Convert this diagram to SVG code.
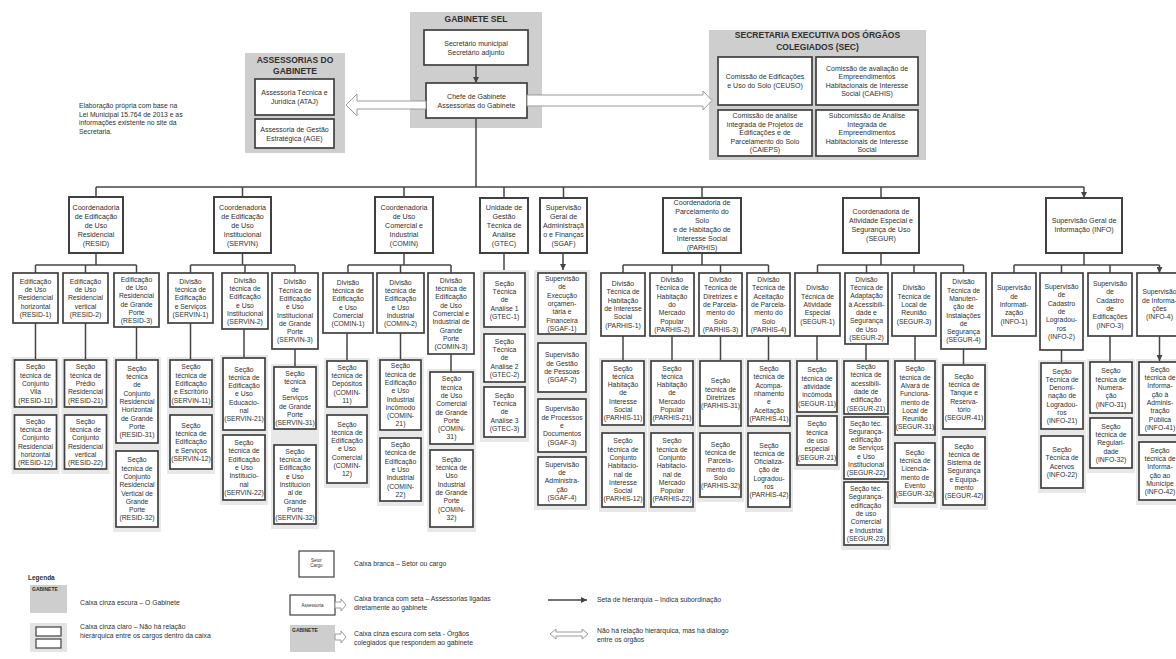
<svg xmlns="http://www.w3.org/2000/svg" width="1176" height="659" viewBox="0 0 1176 659">
<defs>
<style>
text{font-family:"Liberation Sans",Arial,sans-serif;fill:#2f2f2f}
.t{font-size:6.8px;text-anchor:middle}
.t1{font-size:7.1px}
.t2{font-size:7px;text-anchor:middle}
.h{font-size:8.5px;font-weight:bold;text-anchor:middle;fill:#2f2f2f}
.l{font-size:6.8px}
.b{fill:#fff;stroke:#404040;stroke-width:1.7}
.b1{stroke-width:2}
.g{fill:#cecece}
.sh{fill:#e8e8e8}
.c{fill:none;stroke:#454545;stroke-width:1.5}
.hol{fill:#fff;stroke:#9a9a9a;stroke-width:1}
</style>
<marker id="ah" viewBox="0 0 6 6" refX="6" refY="3" markerWidth="6" markerHeight="6" markerUnits="userSpaceOnUse" orient="auto"><path d="M0,0 L6,3 L0,6 z" fill="#454545"/></marker>
</defs>
<rect width="1176" height="659" fill="#fff"/>

<!-- source note -->
<text class="l" x="79" y="108">Elaboração própria com base na</text>
<text class="l" x="79" y="116.5">Lei Municipal 15.764 de 2013 e as</text>
<text class="l" x="79" y="125">informações existente no site da</text>
<text class="l" x="79" y="133.5">Secretaria.</text>

<!-- cabinet -->
<g id="gabinete">
<rect class="g" x="410" y="12" width="132" height="116"/>
<text class="h" x="476" y="22">GABINETE SEL</text>
<rect class="b" x="424" y="30" width="104" height="35"/>
<text class="t2" y="45.5"><tspan x="476">Secretário municipal</tspan><tspan x="476" dy="9">Secretário adjunto</tspan></text>
<rect class="b" x="426" y="83" width="101" height="35"/>
<text class="t2" y="98.5"><tspan x="476.5">Chefe de Gabinete</tspan><tspan x="476.5" dy="9">Assessorias do Gabinete</tspan></text>
</g>

<g id="assessorias">
<rect class="g" x="245" y="53" width="100" height="100"/>
<text class="h" y="63"><tspan x="295">ASSESSORIAS DO</tspan><tspan x="295" dy="11">GABINETE</tspan></text>
<rect class="b" x="255" y="79" width="79" height="36"/>
<text class="t2" y="95"><tspan x="294.5">Assessoria Técnica e</tspan><tspan x="294.5" dy="9">Jurídica (ATAJ)</tspan></text>
<rect class="b" x="255" y="119" width="79" height="29"/>
<text class="t2" y="131.5"><tspan x="294.5">Assessoria de Gestão</tspan><tspan x="294.5" dy="9">Estratégica (AGE)</tspan></text>
</g>

<g id="sec">
<rect class="g" x="709" y="30" width="217" height="130"/>
<text class="h" y="38"><tspan x="817.5">SECRETARIA EXECUTIVA DOS ÓRGÃOS</tspan><tspan x="817.5" dy="12">COLEGIADOS (SEC)</tspan></text>
<rect class="b" x="718" y="57" width="94" height="48"/>
<text class="t2" y="79"><tspan x="765">Comissão de Edificações</tspan><tspan x="765" dy="9">e Uso do Solo (CEUSO)</tspan></text>
<rect class="b" x="816" y="57" width="102" height="48"/>
<text class="t2" y="70.5"><tspan x="867">Comissão de avaliação de</tspan><tspan x="867" dy="8.5">Empreendimentos</tspan><tspan x="867" dy="8.5">Habitacionais de Interesse</tspan><tspan x="867" dy="8.5">Social (CAEHIS)</tspan></text>
<rect class="b" x="718" y="110" width="94" height="46"/>
<text class="t2" y="118.4"><tspan x="765">Comissão de análise</tspan><tspan x="765" dy="8.5">integrada de Projetos de</tspan><tspan x="765" dy="8.5">Edificações e de</tspan><tspan x="765" dy="8.5">Parcelamento do Solo</tspan><tspan x="765" dy="8.5">(CAIEPS)</tspan></text>
<rect class="b" x="816" y="110" width="102" height="46"/>
<text class="t2" y="118.4"><tspan x="867">Subcomissão de Análise</tspan><tspan x="867" dy="8.5">Integrada de</tspan><tspan x="867" dy="8.5">Empreendimentos</tspan><tspan x="867" dy="8.5">Habitacionais de Interesse</tspan><tspan x="867" dy="8.5">Social</tspan></text>
</g>

<!-- dialogue arrows (no hierarchy) -->
<g id="dialogue">
<polygon class="hol" points="426,101 357,101 357,94 346,105 357,116 357,109 426,109"/>
<polygon class="hol" points="527,95 703,95 703,91 712,100.5 703,110 703,106 527,106"/>
</g>

<!-- light shading behind section columns -->
<g id="shading">
<rect class="sh" x="11.5" y="357" width="48" height="117"/>
<rect class="sh" x="61.5" y="357" width="48" height="117"/>
<rect class="sh" x="113" y="357" width="48" height="175"/>
<rect class="sh" x="167" y="357" width="48" height="117"/>
<rect class="sh" x="220" y="355" width="48" height="150"/>
<rect class="sh" x="271" y="364" width="48" height="165"/>
<rect class="sh" x="324" y="358" width="46" height="130"/>
<rect class="sh" x="377" y="357" width="47" height="149"/>
<rect class="sh" x="427" y="369" width="49" height="163"/>
<rect class="sh" x="480" y="270" width="49" height="172"/>
<rect class="sh" x="534" y="270" width="56" height="240"/>
<rect class="sh" x="599" y="358" width="48" height="154"/>
<rect class="sh" x="648" y="358" width="48" height="154"/>
<rect class="sh" x="697" y="358" width="47" height="144"/>
<rect class="sh" x="745" y="358" width="48" height="154"/>
<rect class="sh" x="794" y="358" width="46" height="112"/>
<rect class="sh" x="841" y="358" width="50" height="192"/>
<rect class="sh" x="892" y="358" width="46" height="150"/>
<rect class="sh" x="940" y="362" width="48" height="148"/>
<rect class="sh" x="1038" y="360" width="48" height="133"/>
<rect class="sh" x="1087" y="359" width="48" height="114"/>
<rect class="sh" x="1136" y="359" width="48" height="146"/>
</g>

<!-- hierarchy connectors -->
<g id="connectors" class="c">
<path d="M476,65 V83" marker-end="url(#ah)"/>
<path d="M476,118 V187 M96,187 H1084"/>
<path d="M96,187 V197 M242.5,187 V197 M404,187 V197 M504,187 V198 M563.5,187 V198 M702,187 V198 M881,187 V198 M1084,187 V198" marker-end="url(#ah)"/>
<path d="M96,253 V265 M35.5,265 H136.5 M242.5,253 V265 M190.5,265 H295 M404,253 V265 M348,265 H451 M702,253 V265 M623,265 H768.5 M881,253 V265 M817.5,265 H963.5 M1084,253 V265 M1014,265 H1159.5"/>
<path d="M35.5,265 V273 M85.5,265 V273 M136.5,265 V273 M190.5,265 V273 M245,265 V273 M295,265 V273 M348,265 V273 M400.5,265 V273 M451,265 V273 M623,265 V273 M672,265 V273 M720.5,265 V273 M768.5,265 V273 M817.5,265 V273 M866.5,265 V273 M914,265 V273 M963.5,265 V273 M1014,265 V273 M1061.5,265 V273 M1110,265 V273 M1159.5,265 V273" marker-end="url(#ah)"/>
<path d="M504,253 V270 M563,253 V270" marker-end="url(#ah)"/>
<path d="M35.5,323 V359 M85.5,323 V359 M136.5,327 V359 M190.5,323 V359 M244,329 V357 M295,349 V366 M347,333 V360 M400.5,333 V359 M451,354 V371 M623,336 V360 M672,336 V360 M720.5,336 V360 M768.5,336 V360 M817,336 V360 M866,344 V360 M915,336 V360 M963.5,349 V364 M1061.5,350 V362 M1110,336 V361 M1159.5,336 V361" marker-end="url(#ah)"/>
</g>

<!-- level 1 -->
<g id="RESID"><rect class="b b1" x="69" y="197" width="54" height="56"/><text class="t t1" y="209.5"><tspan x="96">Coordenadoria</tspan><tspan x="96" dy="9">de Edificação</tspan><tspan x="96" dy="9">de Uso</tspan><tspan x="96" dy="9">Residencial</tspan><tspan x="96" dy="9">(RESID)</tspan></text></g>
<g id="SERVIN"><rect class="b b1" x="214" y="197" width="57" height="56"/><text class="t t1" y="209.5"><tspan x="242.5">Coordenadoria</tspan><tspan x="242.5" dy="9">de Edificação</tspan><tspan x="242.5" dy="9">de Uso</tspan><tspan x="242.5" dy="9">Institucional</tspan><tspan x="242.5" dy="9">(SERVIN)</tspan></text></g>
<g id="COMIN"><rect class="b b1" x="375" y="197" width="58" height="56"/><text class="t t1" y="209.5"><tspan x="404">Coordenadoria</tspan><tspan x="404" dy="9">de Uso</tspan><tspan x="404" dy="9">Comercial e</tspan><tspan x="404" dy="9">Industrial</tspan><tspan x="404" dy="9">(COMIN)</tspan></text></g>
<g id="GTEC"><rect class="b b1" x="480" y="198" width="48" height="55"/><text class="t t1" y="209.5"><tspan x="504">Unidade de</tspan><tspan x="504" dy="9">Gestão</tspan><tspan x="504" dy="9">Técnica de</tspan><tspan x="504" dy="9">Análise</tspan><tspan x="504" dy="9">(GTEC)</tspan></text></g>
<g id="SGAF"><rect class="b b1" x="540" y="198" width="47" height="55"/><text class="t t1" y="209.5"><tspan x="563.5">Supervisão</tspan><tspan x="563.5" dy="9">Geral de</tspan><tspan x="563.5" dy="9">Administraçã</tspan><tspan x="563.5" dy="9">o e Finanças</tspan><tspan x="563.5" dy="9">(SGAF)</tspan></text></g>
<g id="PARHIS"><rect class="b b1" x="663" y="198" width="78" height="55"/><text class="t t1" y="205"><tspan x="702">Coordenadoria de</tspan><tspan x="702" dy="9">Parcelamento do</tspan><tspan x="702" dy="9">Solo</tspan><tspan x="702" dy="9">e de Habitação de</tspan><tspan x="702" dy="9">Interesse Social</tspan><tspan x="702" dy="9">(PARHIS)</tspan></text></g>
<g id="SEGUR"><rect class="b b1" x="843" y="198" width="76" height="55"/><text class="t t1" y="214"><tspan x="881">Coordenadoria de</tspan><tspan x="881" dy="9">Atividade Especial e</tspan><tspan x="881" dy="9">Segurança de Uso</tspan><tspan x="881" dy="9">(SEGUR)</tspan></text></g>
<g id="INFO"><rect class="b b1" x="1046" y="198" width="76" height="55"/><text class="t t1" y="223"><tspan x="1084">Supervisão Geral de</tspan><tspan x="1084" dy="9">Informação (INFO)</tspan></text></g>

<!-- level 2 -->
<g id="RESID-1"><rect class="b" x="13" y="273" width="45" height="50"/><text class="t" y="283.8"><tspan x="35.5">Edificação</tspan><tspan x="35.5" dy="8.3">de Uso</tspan><tspan x="35.5" dy="8.3">Residencial</tspan><tspan x="35.5" dy="8.3">horizontal</tspan><tspan x="35.5" dy="8.3">(RESID-1)</tspan></text></g>
<g id="RESID-2"><rect class="b" x="63" y="273" width="45" height="50"/><text class="t" y="283.8"><tspan x="85.5">Edificação</tspan><tspan x="85.5" dy="8.3">de Uso</tspan><tspan x="85.5" dy="8.3">Residencial</tspan><tspan x="85.5" dy="8.3">vertical</tspan><tspan x="85.5" dy="8.3">(RESID-2)</tspan></text></g>
<g id="RESID-3"><rect class="b" x="114" y="273" width="45" height="54"/><text class="t" y="281.65"><tspan x="136.5">Edificação</tspan><tspan x="136.5" dy="8.3">de Uso</tspan><tspan x="136.5" dy="8.3">Residencial</tspan><tspan x="136.5" dy="8.3">de Grande</tspan><tspan x="136.5" dy="8.3">Porte</tspan><tspan x="136.5" dy="8.3">(RESID-3)</tspan></text></g>
<g id="SERVIN-1"><rect class="b" x="168" y="273" width="45" height="50"/><text class="t" y="283.8"><tspan x="190.5">Divisão</tspan><tspan x="190.5" dy="8.3">técnica de</tspan><tspan x="190.5" dy="8.3">Edificação</tspan><tspan x="190.5" dy="8.3">e Serviços</tspan><tspan x="190.5" dy="8.3">(SERVIN-1)</tspan></text></g>
<g id="SERVIN-2"><rect class="b" x="222" y="273" width="46" height="56"/><text class="t" y="282.65"><tspan x="245">Divisão</tspan><tspan x="245" dy="8.3">técnica de</tspan><tspan x="245" dy="8.3">Edificação</tspan><tspan x="245" dy="8.3">e Uso</tspan><tspan x="245" dy="8.3">Institucional</tspan><tspan x="245" dy="8.3">(SERVIN-2)</tspan></text></g>
<g id="SERVIN-3"><rect class="b" x="272" y="273" width="46" height="76"/><text class="t" y="284.35"><tspan x="295">Divisão</tspan><tspan x="295" dy="8.3">Técnica de</tspan><tspan x="295" dy="8.3">Edificação</tspan><tspan x="295" dy="8.3">e Uso</tspan><tspan x="295" dy="8.3">Institucional</tspan><tspan x="295" dy="8.3">de Grande</tspan><tspan x="295" dy="8.3">Porte</tspan><tspan x="295" dy="8.3">(SERVIN-3)</tspan></text></g>
<g id="COMIN-1"><rect class="b" x="323" y="273" width="50" height="60"/><text class="t" y="284.65"><tspan x="348">Divisão</tspan><tspan x="348" dy="8.3">técnica de</tspan><tspan x="348" dy="8.3">Edificação</tspan><tspan x="348" dy="8.3">e Uso</tspan><tspan x="348" dy="8.3">Comercial</tspan><tspan x="348" dy="8.3">(COMIN-1)</tspan></text></g>
<g id="COMIN-2"><rect class="b" x="377" y="273" width="47" height="60"/><text class="t" y="284.65"><tspan x="400.5">Divisão</tspan><tspan x="400.5" dy="8.3">técnica de</tspan><tspan x="400.5" dy="8.3">Edificação</tspan><tspan x="400.5" dy="8.3">e Uso</tspan><tspan x="400.5" dy="8.3">Industrial</tspan><tspan x="400.5" dy="8.3">(COMIN-2)</tspan></text></g>
<g id="COMIN-3"><rect class="b" x="428" y="273" width="46" height="81"/><text class="t" y="282.7"><tspan x="451">Divisão</tspan><tspan x="451" dy="8.3">técnica de</tspan><tspan x="451" dy="8.3">Edificação</tspan><tspan x="451" dy="8.3">de Uso</tspan><tspan x="451" dy="8.3">Comercial e</tspan><tspan x="451" dy="8.3">Industrial de</tspan><tspan x="451" dy="8.3">Grande</tspan><tspan x="451" dy="8.3">Porte</tspan><tspan x="451" dy="8.3">(COMIN-3)</tspan></text></g>
<g id="PARHIS-1"><rect class="b" x="601" y="273" width="44" height="63"/><text class="t" y="286.15"><tspan x="623">Divisão</tspan><tspan x="623" dy="8.3">Técnica de</tspan><tspan x="623" dy="8.3">Habitação</tspan><tspan x="623" dy="8.3">de Interesse</tspan><tspan x="623" dy="8.3">Social</tspan><tspan x="623" dy="8.3">(PARHIS-1)</tspan></text></g>
<g id="PARHIS-2"><rect class="b" x="650" y="273" width="44" height="63"/><text class="t" y="282"><tspan x="672">Divisão</tspan><tspan x="672" dy="8.3">Técnica de</tspan><tspan x="672" dy="8.3">Habitação</tspan><tspan x="672" dy="8.3">do</tspan><tspan x="672" dy="8.3">Mercado</tspan><tspan x="672" dy="8.3">Popular</tspan><tspan x="672" dy="8.3">(PARHIS-2)</tspan></text></g>
<g id="PARHIS-3"><rect class="b" x="699" y="273" width="43" height="63"/><text class="t" y="282"><tspan x="720.5">Divisão</tspan><tspan x="720.5" dy="8.3">Técnica de</tspan><tspan x="720.5" dy="8.3">Diretrizes e</tspan><tspan x="720.5" dy="8.3">de Parcela-</tspan><tspan x="720.5" dy="8.3">mento do</tspan><tspan x="720.5" dy="8.3">Solo</tspan><tspan x="720.5" dy="8.3">(PARHIS-3)</tspan></text></g>
<g id="PARHIS-4"><rect class="b" x="747" y="273" width="43" height="63"/><text class="t" y="282"><tspan x="768.5">Divisão</tspan><tspan x="768.5" dy="8.3">Técnica de</tspan><tspan x="768.5" dy="8.3">Aceitação</tspan><tspan x="768.5" dy="8.3">de Parcela-</tspan><tspan x="768.5" dy="8.3">mento do</tspan><tspan x="768.5" dy="8.3">Solo</tspan><tspan x="768.5" dy="8.3">(PARHIS-4)</tspan></text></g>
<g id="SEGUR-1"><rect class="b" x="795" y="273" width="45" height="63"/><text class="t" y="290.3"><tspan x="817.5">Divisão</tspan><tspan x="817.5" dy="8.3">Técnica de</tspan><tspan x="817.5" dy="8.3">Atividade</tspan><tspan x="817.5" dy="8.3">Especial</tspan><tspan x="817.5" dy="8.3">(SEGUR-1)</tspan></text></g>
<g id="SEGUR-2"><rect class="b" x="845" y="273" width="43" height="71"/><text class="t" y="281.85"><tspan x="866.5">Divisão</tspan><tspan x="866.5" dy="8.3">Técnica de</tspan><tspan x="866.5" dy="8.3">Adaptação</tspan><tspan x="866.5" dy="8.3">à Acessibili-</tspan><tspan x="866.5" dy="8.3">dade e</tspan><tspan x="866.5" dy="8.3">Segurança</tspan><tspan x="866.5" dy="8.3">de Uso</tspan><tspan x="866.5" dy="8.3">(SEGUR-2)</tspan></text></g>
<g id="SEGUR-3"><rect class="b" x="892" y="273" width="44" height="63"/><text class="t" y="290.3"><tspan x="914">Divisão</tspan><tspan x="914" dy="8.3">Técnica de</tspan><tspan x="914" dy="8.3">Local de</tspan><tspan x="914" dy="8.3">Reunião</tspan><tspan x="914" dy="8.3">(SEGUR-3)</tspan></text></g>
<g id="SEGUR-4"><rect class="b" x="941" y="273" width="45" height="76"/><text class="t" y="284.35"><tspan x="963.5">Divisão</tspan><tspan x="963.5" dy="8.3">Técnica de</tspan><tspan x="963.5" dy="8.3">Manuten-</tspan><tspan x="963.5" dy="8.3">ção de</tspan><tspan x="963.5" dy="8.3">Instalações</tspan><tspan x="963.5" dy="8.3">de</tspan><tspan x="963.5" dy="8.3">Segurança</tspan><tspan x="963.5" dy="8.3">(SEGUR-4)</tspan></text></g>
<g id="INFO-1"><rect class="b" x="992" y="273" width="44" height="63"/><text class="t" y="290.3"><tspan x="1014">Supervisão</tspan><tspan x="1014" dy="8.3">de</tspan><tspan x="1014" dy="8.3">Informati-</tspan><tspan x="1014" dy="8.3">zação</tspan><tspan x="1014" dy="8.3">(INFO-1)</tspan></text></g>
<g id="INFO-2"><rect class="b" x="1040" y="273" width="43" height="77"/><text class="t" y="289"><tspan x="1061.5">Supervisão</tspan><tspan x="1061.5" dy="8.3">de</tspan><tspan x="1061.5" dy="8.3">Cadastro</tspan><tspan x="1061.5" dy="8.3">de</tspan><tspan x="1061.5" dy="8.3">Logradou-</tspan><tspan x="1061.5" dy="8.3">ros</tspan><tspan x="1061.5" dy="8.3">(INFO-2)</tspan></text></g>
<g id="INFO-3"><rect class="b" x="1088" y="273" width="44" height="63"/><text class="t" y="286.15"><tspan x="1110">Supervisão</tspan><tspan x="1110" dy="8.3">de</tspan><tspan x="1110" dy="8.3">Cadastro</tspan><tspan x="1110" dy="8.3">de</tspan><tspan x="1110" dy="8.3">Edificações</tspan><tspan x="1110" dy="8.3">(INFO-3)</tspan></text></g>
<g id="INFO-4"><rect class="b" x="1137" y="273" width="45" height="63"/><text class="t" y="294.45"><tspan x="1159.5">Supervisão</tspan><tspan x="1159.5" dy="8.3">de Informa-</tspan><tspan x="1159.5" dy="8.3">ções</tspan><tspan x="1159.5" dy="8.3">(INFO-4)</tspan></text></g>

<!-- level 3: sections -->
<g id="RESID-11"><rect class="b" x="14.5" y="360" width="42" height="47"/><text class="t" y="369.3"><tspan x="35.5">Seção</tspan><tspan x="35.5" dy="8.3">técnica de</tspan><tspan x="35.5" dy="8.3">Conjunto</tspan><tspan x="35.5" dy="8.3">Vila</tspan><tspan x="35.5" dy="8.3">(RESID-11)</tspan></text></g>
<g id="RESID-12"><rect class="b" x="14.5" y="415" width="42" height="54"/><text class="t" y="423.65"><tspan x="35.5">Seção</tspan><tspan x="35.5" dy="8.3">técnica de</tspan><tspan x="35.5" dy="8.3">Conjunto</tspan><tspan x="35.5" dy="8.3">Residencial</tspan><tspan x="35.5" dy="8.3">horizontal</tspan><tspan x="35.5" dy="8.3">(RESID-12)</tspan></text></g>
<g id="RESID-21"><rect class="b" x="64.5" y="360" width="42" height="47"/><text class="t" y="369.3"><tspan x="85.5">Seção</tspan><tspan x="85.5" dy="8.3">técnica de</tspan><tspan x="85.5" dy="8.3">Prédio</tspan><tspan x="85.5" dy="8.3">Residencial</tspan><tspan x="85.5" dy="8.3">(RESID-21)</tspan></text></g>
<g id="RESID-22"><rect class="b" x="64.5" y="415" width="42" height="54"/><text class="t" y="423.65"><tspan x="85.5">Seção</tspan><tspan x="85.5" dy="8.3">técnica de</tspan><tspan x="85.5" dy="8.3">Conjunto</tspan><tspan x="85.5" dy="8.3">Residencial</tspan><tspan x="85.5" dy="8.3">vertical</tspan><tspan x="85.5" dy="8.3">(RESID-22)</tspan></text></g>
<g id="RESID-31"><rect class="b" x="116" y="360" width="42" height="83"/><text class="t" y="370.7"><tspan x="137">Seção</tspan><tspan x="137" dy="8.3">técnica</tspan><tspan x="137" dy="8.3">de</tspan><tspan x="137" dy="8.3">Conjunto</tspan><tspan x="137" dy="8.3">Residencial</tspan><tspan x="137" dy="8.3">Horizontal</tspan><tspan x="137" dy="8.3">de Grande</tspan><tspan x="137" dy="8.3">Porte</tspan><tspan x="137" dy="8.3">(RESID-31)</tspan></text></g>
<g id="RESID-32"><rect class="b" x="116" y="451" width="42" height="76"/><text class="t" y="462.35"><tspan x="137">Seção</tspan><tspan x="137" dy="8.3">técnica de</tspan><tspan x="137" dy="8.3">Conjunto</tspan><tspan x="137" dy="8.3">Residencial</tspan><tspan x="137" dy="8.3">Vertical de</tspan><tspan x="137" dy="8.3">Grande</tspan><tspan x="137" dy="8.3">Porte</tspan><tspan x="137" dy="8.3">(RESID-32)</tspan></text></g>
<g id="SERVIN-11"><rect class="b" x="170" y="360" width="42" height="47"/><text class="t" y="369.3"><tspan x="191">Seção</tspan><tspan x="191" dy="8.3">técnica de</tspan><tspan x="191" dy="8.3">Edificação</tspan><tspan x="191" dy="8.3">e Escritório</tspan><tspan x="191" dy="8.3">(SERVIN-11)</tspan></text></g>
<g id="SERVIN-12"><rect class="b" x="170" y="415" width="42" height="54"/><text class="t" y="427.8"><tspan x="191">Seção</tspan><tspan x="191" dy="8.3">técnica de</tspan><tspan x="191" dy="8.3">Edificação</tspan><tspan x="191" dy="8.3">e Serviços</tspan><tspan x="191" dy="8.3">(SERVIN-12)</tspan></text></g>
<g id="SERVIN-21"><rect class="b" x="223" y="358" width="42" height="72"/><text class="t" y="371.5"><tspan x="244">Seção</tspan><tspan x="244" dy="8.3">técnica de</tspan><tspan x="244" dy="8.3">Edificação</tspan><tspan x="244" dy="8.3">e Uso</tspan><tspan x="244" dy="8.3">Educacio-</tspan><tspan x="244" dy="8.3">nal</tspan><tspan x="244" dy="8.3">(SERVIN-21)</tspan></text></g>
<g id="SERVIN-22"><rect class="b" x="223" y="435" width="42" height="65"/><text class="t" y="445"><tspan x="244">Seção</tspan><tspan x="244" dy="8.3">técnica de</tspan><tspan x="244" dy="8.3">Edificação</tspan><tspan x="244" dy="8.3">e Uso</tspan><tspan x="244" dy="8.3">Institucio-</tspan><tspan x="244" dy="8.3">nal</tspan><tspan x="244" dy="8.3">(SERVIN-22)</tspan></text></g>
<g id="SERVIN-31"><rect class="b" x="274" y="367" width="42" height="62"/><text class="t" y="375.5"><tspan x="295">Seção</tspan><tspan x="295" dy="8.3">técnica</tspan><tspan x="295" dy="8.3">de</tspan><tspan x="295" dy="8.3">Serviços</tspan><tspan x="295" dy="8.3">de Grande</tspan><tspan x="295" dy="8.3">Porte</tspan><tspan x="295" dy="8.3">(SERVIN-31)</tspan></text></g>
<g id="SERVIN-32"><rect class="b" x="274" y="445" width="42" height="79"/><text class="t" y="453.7"><tspan x="295">Seção</tspan><tspan x="295" dy="8.3">técnica de</tspan><tspan x="295" dy="8.3">Edificação</tspan><tspan x="295" dy="8.3">e Uso</tspan><tspan x="295" dy="8.3">Institucion</tspan><tspan x="295" dy="8.3">al de</tspan><tspan x="295" dy="8.3">Grande</tspan><tspan x="295" dy="8.3">Porte</tspan><tspan x="295" dy="8.3">(SERVIN-32)</tspan></text></g>
<g id="COMIN-11"><rect class="b" x="327" y="361" width="40" height="46"/><text class="t" y="369.8"><tspan x="347">Seção</tspan><tspan x="347" dy="8.3">técnica de</tspan><tspan x="347" dy="8.3">Depósitos</tspan><tspan x="347" dy="8.3">(COMIN-</tspan><tspan x="347" dy="8.3">11)</tspan></text></g>
<g id="COMIN-12"><rect class="b" x="327" y="415" width="40" height="68"/><text class="t" y="426.5"><tspan x="347">Seção</tspan><tspan x="347" dy="8.3">técnica de</tspan><tspan x="347" dy="8.3">Edificação</tspan><tspan x="347" dy="8.3">e Uso</tspan><tspan x="347" dy="8.3">Comercial</tspan><tspan x="347" dy="8.3">(COMIN-</tspan><tspan x="347" dy="8.3">12)</tspan></text></g>
<g id="COMIN-21"><rect class="b" x="380" y="360" width="41" height="70"/><text class="t" y="368.35"><tspan x="400.5">Seção</tspan><tspan x="400.5" dy="8.3">técnica de</tspan><tspan x="400.5" dy="8.3">Edificação</tspan><tspan x="400.5" dy="8.3">e Uso</tspan><tspan x="400.5" dy="8.3">Industrial</tspan><tspan x="400.5" dy="8.3">incômodo</tspan><tspan x="400.5" dy="8.3">(COMIN-</tspan><tspan x="400.5" dy="8.3">21)</tspan></text></g>
<g id="COMIN-22"><rect class="b" x="380" y="438" width="41" height="63"/><text class="t" y="447"><tspan x="400.5">Seção</tspan><tspan x="400.5" dy="8.3">técnica de</tspan><tspan x="400.5" dy="8.3">Edificação</tspan><tspan x="400.5" dy="8.3">e Uso</tspan><tspan x="400.5" dy="8.3">Industrial</tspan><tspan x="400.5" dy="8.3">(COMIN-</tspan><tspan x="400.5" dy="8.3">22)</tspan></text></g>
<g id="COMIN-31"><rect class="b" x="430" y="372" width="43" height="72"/><text class="t" y="381.35"><tspan x="451.5">Seção</tspan><tspan x="451.5" dy="8.3">técnica</tspan><tspan x="451.5" dy="8.3">de Uso</tspan><tspan x="451.5" dy="8.3">Comercial</tspan><tspan x="451.5" dy="8.3">de Grande</tspan><tspan x="451.5" dy="8.3">Porte</tspan><tspan x="451.5" dy="8.3">(COMIN-</tspan><tspan x="451.5" dy="8.3">31)</tspan></text></g>
<g id="COMIN-32"><rect class="b" x="430" y="450" width="43" height="77"/><text class="t" y="461.85"><tspan x="451.5">Seção</tspan><tspan x="451.5" dy="8.3">técnica de</tspan><tspan x="451.5" dy="8.3">Uso</tspan><tspan x="451.5" dy="8.3">Industrial</tspan><tspan x="451.5" dy="8.3">de Grande</tspan><tspan x="451.5" dy="8.3">Porte</tspan><tspan x="451.5" dy="8.3">(COMIN-</tspan><tspan x="451.5" dy="8.3">32)</tspan></text></g>
<g id="GTEC-1"><rect class="b" x="484" y="273" width="41" height="54"/><text class="t" y="285.8"><tspan x="504.5">Seção</tspan><tspan x="504.5" dy="8.3">Técnica</tspan><tspan x="504.5" dy="8.3">de</tspan><tspan x="504.5" dy="8.3">Análise 1</tspan><tspan x="504.5" dy="8.3">(GTEC-1)</tspan></text></g>
<g id="GTEC-2"><rect class="b" x="484" y="334" width="41" height="48"/><text class="t" y="343.8"><tspan x="504.5">Seção</tspan><tspan x="504.5" dy="8.3">Técnica</tspan><tspan x="504.5" dy="8.3">de</tspan><tspan x="504.5" dy="8.3">Análise 2</tspan><tspan x="504.5" dy="8.3">(GTEC-2)</tspan></text></g>
<g id="GTEC-3"><rect class="b" x="484" y="387" width="41" height="50"/><text class="t" y="397.8"><tspan x="504.5">Seção</tspan><tspan x="504.5" dy="8.3">Técnica</tspan><tspan x="504.5" dy="8.3">de</tspan><tspan x="504.5" dy="8.3">Análise 3</tspan><tspan x="504.5" dy="8.3">(GTEC-3)</tspan></text></g>
<g id="SGAF-1"><rect class="b" x="538" y="273" width="48" height="61"/><text class="t" y="281"><tspan x="562">Supervisão</tspan><tspan x="562" dy="8.3">de</tspan><tspan x="562" dy="8.3">Execução</tspan><tspan x="562" dy="8.3">orçamen-</tspan><tspan x="562" dy="8.3">tária e</tspan><tspan x="562" dy="8.3">Financeira</tspan><tspan x="562" dy="8.3">(SGAF-1)</tspan></text></g>
<g id="SGAF-2"><rect class="b" x="538" y="343" width="48" height="49"/><text class="t" y="357.45"><tspan x="562">Supervisão</tspan><tspan x="562" dy="8.3">de Gestão</tspan><tspan x="562" dy="8.3">de Pessoas</tspan><tspan x="562" dy="8.3">(SGAF-2)</tspan></text></g>
<g id="SGAF-3"><rect class="b" x="538" y="399" width="48" height="53"/><text class="t" y="411.3"><tspan x="562">Supervisão</tspan><tspan x="562" dy="8.3">de Processos</tspan><tspan x="562" dy="8.3">e</tspan><tspan x="562" dy="8.3">Documentos</tspan><tspan x="562" dy="8.3">(SGAF-3)</tspan></text></g>
<g id="SGAF-4"><rect class="b" x="538" y="457" width="48" height="48"/><text class="t" y="466.8"><tspan x="562">Supervisão</tspan><tspan x="562" dy="8.3">de</tspan><tspan x="562" dy="8.3">Administra-</tspan><tspan x="562" dy="8.3">ção</tspan><tspan x="562" dy="8.3">(SGAF-4)</tspan></text></g>
<g id="PARHIS-11"><rect class="b" x="602" y="361" width="42" height="64"/><text class="t" y="370.5"><tspan x="623">Seção</tspan><tspan x="623" dy="8.3">técnica</tspan><tspan x="623" dy="8.3">Habitação</tspan><tspan x="623" dy="8.3">de</tspan><tspan x="623" dy="8.3">Interesse</tspan><tspan x="623" dy="8.3">Social</tspan><tspan x="623" dy="8.3">(PARHIS-11)</tspan></text></g>
<g id="PARHIS-12"><rect class="b" x="602" y="433" width="42" height="74"/><text class="t" y="443.35"><tspan x="623">Seção</tspan><tspan x="623" dy="8.3">técnica de</tspan><tspan x="623" dy="8.3">Conjunto</tspan><tspan x="623" dy="8.3">Habitacio-</tspan><tspan x="623" dy="8.3">nal de</tspan><tspan x="623" dy="8.3">Interesse</tspan><tspan x="623" dy="8.3">Social</tspan><tspan x="623" dy="8.3">(PARHIS-12)</tspan></text></g>
<g id="PARHIS-21"><rect class="b" x="651" y="361" width="42" height="64"/><text class="t" y="370.5"><tspan x="672">Seção</tspan><tspan x="672" dy="8.3">técnica</tspan><tspan x="672" dy="8.3">Habitação</tspan><tspan x="672" dy="8.3">de</tspan><tspan x="672" dy="8.3">Mercado</tspan><tspan x="672" dy="8.3">Popular</tspan><tspan x="672" dy="8.3">(PARHIS-21)</tspan></text></g>
<g id="PARHIS-22"><rect class="b" x="651" y="433" width="42" height="74"/><text class="t" y="443.35"><tspan x="672">Seção</tspan><tspan x="672" dy="8.3">técnica de</tspan><tspan x="672" dy="8.3">Conjunto</tspan><tspan x="672" dy="8.3">Habitacio-</tspan><tspan x="672" dy="8.3">nal de</tspan><tspan x="672" dy="8.3">Mercado</tspan><tspan x="672" dy="8.3">Popular</tspan><tspan x="672" dy="8.3">(PARHIS-22)</tspan></text></g>
<g id="PARHIS-31"><rect class="b" x="700" y="361" width="41" height="65"/><text class="t" y="383.45"><tspan x="720.5">Seção</tspan><tspan x="720.5" dy="8.3">técnica de</tspan><tspan x="720.5" dy="8.3">Diretrizes</tspan><tspan x="720.5" dy="8.3">(PARHIS-31)</tspan></text></g>
<g id="PARHIS-32"><rect class="b" x="700" y="433" width="41" height="64"/><text class="t" y="446.65"><tspan x="720.5">Seção</tspan><tspan x="720.5" dy="8.3">técnica de</tspan><tspan x="720.5" dy="8.3">Parcela-</tspan><tspan x="720.5" dy="8.3">mento do</tspan><tspan x="720.5" dy="8.3">Solo</tspan><tspan x="720.5" dy="8.3">(PARHIS-32)</tspan></text></g>
<g id="PARHIS-41"><rect class="b" x="748" y="361" width="42" height="65"/><text class="t" y="371"><tspan x="769">Seção</tspan><tspan x="769" dy="8.3">técnica de</tspan><tspan x="769" dy="8.3">Acompa-</tspan><tspan x="769" dy="8.3">nhamento</tspan><tspan x="769" dy="8.3">e</tspan><tspan x="769" dy="8.3">Aceitação</tspan><tspan x="769" dy="8.3">(PARHIS-41)</tspan></text></g>
<g id="PARHIS-42"><rect class="b" x="748" y="433" width="42" height="74"/><text class="t" y="447.5"><tspan x="769">Seção</tspan><tspan x="769" dy="8.3">técnica de</tspan><tspan x="769" dy="8.3">Oficializa-</tspan><tspan x="769" dy="8.3">ção de</tspan><tspan x="769" dy="8.3">Logradou-</tspan><tspan x="769" dy="8.3">ros</tspan><tspan x="769" dy="8.3">(PARHIS-42)</tspan></text></g>
<g id="SEGUR-11"><rect class="b" x="797" y="361" width="40" height="51"/><text class="t" y="372.3"><tspan x="817">Seção</tspan><tspan x="817" dy="8.3">técnica de</tspan><tspan x="817" dy="8.3">atividade</tspan><tspan x="817" dy="8.3">incômoda</tspan><tspan x="817" dy="8.3">(SEGUR-11)</tspan></text></g>
<g id="SEGUR-12"><rect class="b" x="797" y="416" width="40" height="49"/><text class="t" y="426.3"><tspan x="817">Seção</tspan><tspan x="817" dy="8.3">técnica</tspan><tspan x="817" dy="8.3">de uso</tspan><tspan x="817" dy="8.3">especial</tspan><tspan x="817" dy="8.3">(SEGUR-21)</tspan></text></g>
<g id="SEGUR-21"><rect class="b" x="844" y="361" width="44" height="53"/><text class="t" y="369.15"><tspan x="866">Seção</tspan><tspan x="866" dy="8.3">técnica de</tspan><tspan x="866" dy="8.3">acessibili-</tspan><tspan x="866" dy="8.3">dade de</tspan><tspan x="866" dy="8.3">edificação</tspan><tspan x="866" dy="8.3">(SEGUR-21)</tspan></text></g>
<g id="SEGUR-22"><rect class="b" x="844" y="417" width="44" height="62"/><text class="t" y="425.5"><tspan x="866">Seção téc.</tspan><tspan x="866" dy="8.3">Segurança-</tspan><tspan x="866" dy="8.3">edificação</tspan><tspan x="866" dy="8.3">de Serviços</tspan><tspan x="866" dy="8.3">e Uso</tspan><tspan x="866" dy="8.3">Institucional</tspan><tspan x="866" dy="8.3">(SEGUR-22)</tspan></text></g>
<g id="SEGUR-23"><rect class="b" x="844" y="482" width="44" height="63"/><text class="t" y="491"><tspan x="866">Seção téc.</tspan><tspan x="866" dy="8.3">Segurança-</tspan><tspan x="866" dy="8.3">edificação</tspan><tspan x="866" dy="8.3">de uso</tspan><tspan x="866" dy="8.3">Comercial</tspan><tspan x="866" dy="8.3">e Industrial</tspan><tspan x="866" dy="8.3">(SEGUR-23)</tspan></text></g>
<g id="SEGUR-31"><rect class="b" x="895" y="361" width="40" height="74"/><text class="t" y="371.35"><tspan x="915">Seção</tspan><tspan x="915" dy="8.3">técnica de</tspan><tspan x="915" dy="8.3">Alvará de</tspan><tspan x="915" dy="8.3">Funciona-</tspan><tspan x="915" dy="8.3">mento de</tspan><tspan x="915" dy="8.3">Local de</tspan><tspan x="915" dy="8.3">Reunião</tspan><tspan x="915" dy="8.3">(SEGUR-31)</tspan></text></g>
<g id="SEGUR-32"><rect class="b" x="895" y="443" width="40" height="60"/><text class="t" y="454.65"><tspan x="915">Seção</tspan><tspan x="915" dy="8.3">técnica de</tspan><tspan x="915" dy="8.3">Licencia-</tspan><tspan x="915" dy="8.3">mento de</tspan><tspan x="915" dy="8.3">Evento</tspan><tspan x="915" dy="8.3">(SEGUR-32)</tspan></text></g>
<g id="SEGUR-41"><rect class="b" x="943" y="365" width="42" height="64"/><text class="t" y="378.65"><tspan x="964">Seção</tspan><tspan x="964" dy="8.3">técnica de</tspan><tspan x="964" dy="8.3">Tanque e</tspan><tspan x="964" dy="8.3">Reserva-</tspan><tspan x="964" dy="8.3">tório</tspan><tspan x="964" dy="8.3">(SEGUR-41)</tspan></text></g>
<g id="SEGUR-42"><rect class="b" x="943" y="437" width="42" height="68"/><text class="t" y="448.5"><tspan x="964">Seção</tspan><tspan x="964" dy="8.3">técnica de</tspan><tspan x="964" dy="8.3">Sistema de</tspan><tspan x="964" dy="8.3">Segurança</tspan><tspan x="964" dy="8.3">e Equipa-</tspan><tspan x="964" dy="8.3">mento</tspan><tspan x="964" dy="8.3">(SEGUR-42)</tspan></text></g>
<g id="INFO-21"><rect class="b" x="1041" y="363" width="42" height="66"/><text class="t" y="373.5"><tspan x="1062">Seção</tspan><tspan x="1062" dy="8.3">Técnica de</tspan><tspan x="1062" dy="8.3">Denomi-</tspan><tspan x="1062" dy="8.3">nação de</tspan><tspan x="1062" dy="8.3">Logradou-</tspan><tspan x="1062" dy="8.3">ros</tspan><tspan x="1062" dy="8.3">(INFO-21)</tspan></text></g>
<g id="INFO-22"><rect class="b" x="1041" y="436" width="42" height="52"/><text class="t" y="452"><tspan x="1062">Seção</tspan><tspan x="1062" dy="8.3">Técnica de</tspan><tspan x="1062" dy="8.3">Acervos</tspan><tspan x="1062" dy="8.3">(INFO-22)</tspan></text></g>
<g id="INFO-31"><rect class="b" x="1090" y="362" width="42" height="51"/><text class="t" y="373.3"><tspan x="1111">Seção</tspan><tspan x="1111" dy="8.3">técnica de</tspan><tspan x="1111" dy="8.3">Numera-</tspan><tspan x="1111" dy="8.3">ção</tspan><tspan x="1111" dy="8.3">(INFO-31)</tspan></text></g>
<g id="INFO-32"><rect class="b" x="1090" y="418" width="42" height="50"/><text class="t" y="428.8"><tspan x="1111">Seção</tspan><tspan x="1111" dy="8.3">técnica de</tspan><tspan x="1111" dy="8.3">Regulari-</tspan><tspan x="1111" dy="8.3">dade</tspan><tspan x="1111" dy="8.3">(INFO-32)</tspan></text></g>
<g id="INFO-41"><rect class="b" x="1139" y="362" width="42" height="73"/><text class="t" y="371.85"><tspan x="1160">Seção</tspan><tspan x="1160" dy="8.3">técnica de</tspan><tspan x="1160" dy="8.3">Informa-</tspan><tspan x="1160" dy="8.3">ção à</tspan><tspan x="1160" dy="8.3">Adminis-</tspan><tspan x="1160" dy="8.3">tração</tspan><tspan x="1160" dy="8.3">Pública</tspan><tspan x="1160" dy="8.3">(INFO-41)</tspan></text></g>
<g id="INFO-42"><rect class="b" x="1139" y="442" width="42" height="58"/><text class="t" y="452.65"><tspan x="1160">Seção</tspan><tspan x="1160" dy="8.3">técnica de</tspan><tspan x="1160" dy="8.3">Informa-</tspan><tspan x="1160" dy="8.3">ção ao</tspan><tspan x="1160" dy="8.3">Munícipe</tspan><tspan x="1160" dy="8.3">(INFO-42)</tspan></text></g>

<!-- legend -->
<g id="legend">
<text x="28" y="580" style="font-size:6.5px;font-weight:bold">Legenda</text>
<rect class="g" x="30" y="585" width="37" height="28"/>
<text x="32" y="591" style="font-size:5px;font-weight:bold">GABINETE</text>
<text class="l" x="80" y="605">Caixa cinza escura – O Gabinete</text>
<rect fill="#e4e4e4" x="30" y="623" width="37" height="29"/>
<rect class="b" x="36" y="627" width="25" height="9" style="stroke-width:1.2"/>
<rect class="b" x="36" y="639" width="25" height="9" style="stroke-width:1.2"/>
<text class="l" x="80" y="629">Caixa cinza claro – Não há relação</text>
<text class="l" x="80" y="638">hierárquica entre os cargos dentro da caixa</text>

<rect class="b" x="299" y="551" width="35" height="26" style="stroke-width:1.2"/>
<text class="t" y="562" style="font-size:4.5px"><tspan x="316.5">Setor</tspan><tspan x="316.5" dy="5">Cargo</tspan></text>
<text class="l" x="354" y="566">Caixa branca – Setor ou cargo</text>

<rect class="b" x="290" y="595" width="45" height="20" style="stroke-width:1.2"/>
<text class="t" x="312.5" y="606.5" style="font-size:4.5px">Assessoria</text>
<polygon class="hol" points="335,602 341,602 341,599 346,605 341,611 341,608 335,608"/>
<text class="l" x="354" y="601">Caixa branca com seta – Assessorias ligadas</text>
<text class="l" x="354" y="610">diretamente ao gabinete</text>

<rect class="g" x="290" y="625" width="45" height="27"/>
<text x="292" y="632" style="font-size:5px;font-weight:bold">GABINETE</text>
<polygon class="hol" points="335,634 341,634 341,631 346,637 341,643 341,640 335,640"/>
<text class="l" x="354" y="636">Caixa cinza escura com seta - Órgãos</text>
<text class="l" x="354" y="645">colegiados que respondem ao gabinete</text>

<path class="c" d="M548,600 H587" marker-end="url(#ah)"/>
<text class="l" x="597" y="602">Seta de hierarquia – Indica subordinação</text>
<polygon class="hol" points="550,634 556,629 556,632 582,632 582,629 588,634 582,639 582,636 556,636 556,639"/>
<text class="l" x="597" y="633">Não há relação hierárquica, mas há diálogo</text>
<text class="l" x="597" y="642">entre os órgãos</text>
</g>
</svg>
